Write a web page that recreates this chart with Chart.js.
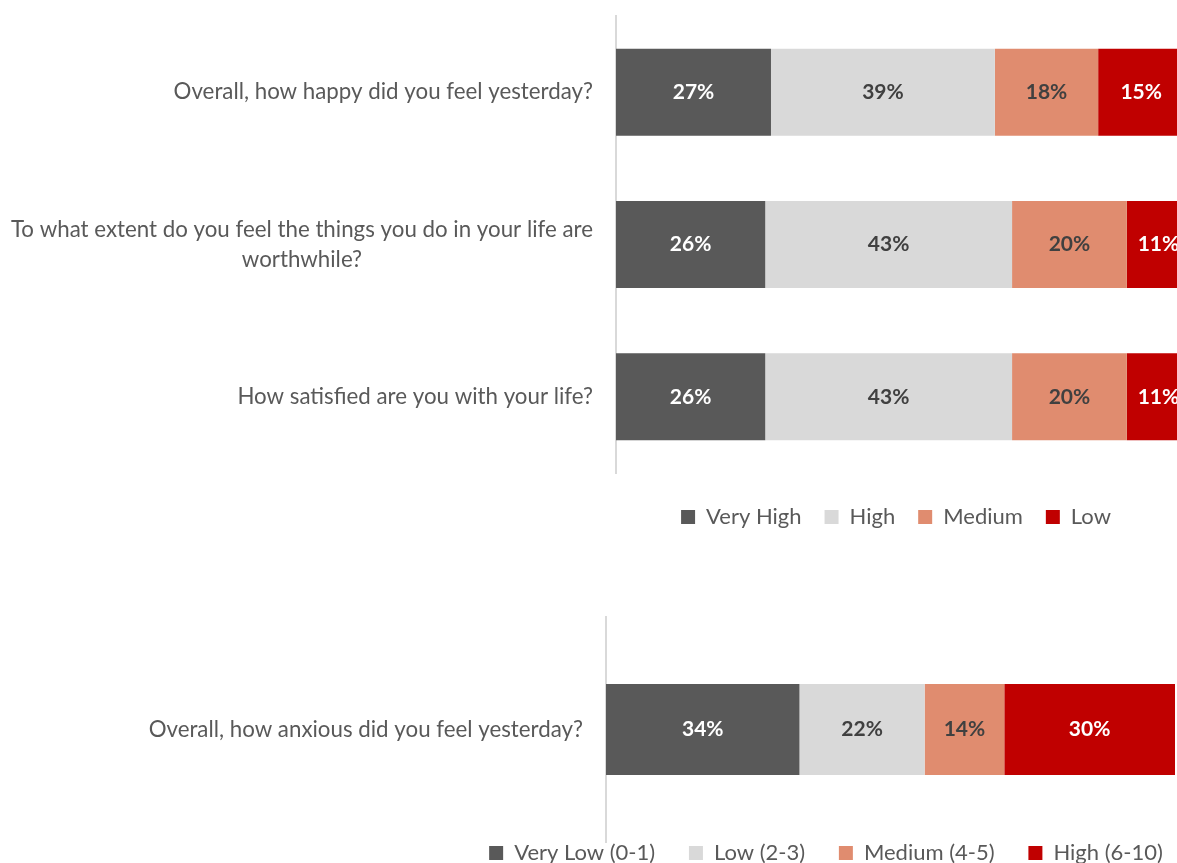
<!DOCTYPE html>
<html>
<head>
<meta charset="utf-8">
<title>Personal wellbeing</title>
<script src="https://cdn.jsdelivr.net/npm/chart.js@4/dist/chart.umd.min.js"></script>
<style>
  html, body { margin: 0; padding: 0; background: #ffffff; }
  #page { position: relative; width: 1177px; height: 863px; overflow: hidden; }
  .panel { position: absolute; left: 0; }
  #wellbeingPanel { top: 0; }
  #anxietyPanel { top: 600px; }
</style>
</head>
<body>
<div id="page">
  <div class="panel" id="wellbeingPanel"><canvas id="wellbeingChart" width="1190" height="538"></canvas></div>
  <div class="panel" id="anxietyPanel"><canvas id="anxietyChart" width="1175" height="274"></canvas></div>
</div>

<script>
/* ---------- data ---------- */
const wellbeingQuestions = [
  "Overall, how happy did you feel yesterday?",
  ["To what extent do you feel the things you do in your life are", "worthwhile?"],
  "How satisfied are you with your life?"
];
const wellbeingBands = ["Very High", "High", "Medium", "Low"];
const wellbeingVeryHigh = [27, 26, 26];
const wellbeingHigh     = [39, 43, 43];
const wellbeingMedium   = [18, 20, 20];
const wellbeingLow      = [15, 11, 11];

const anxietyQuestions = ["Overall, how anxious did you feel yesterday?"];
const anxietyBands = ["Very Low (0-1)", "Low (2-3)", "Medium (4-5)", "High (6-10)"];
const anxietyVeryLow = [34];
const anxietyLow     = [22];
const anxietyMedium  = [14];
const anxietyHigh    = [30];

/* ---------- styling ---------- */
const bandColors = ["#595959", "#D9D9D9", "#E08C6F", "#C00000"];
const valueTextColors = ["#FFFFFF", "#404040", "#404040", "#FFFFFF"];
const FONT = "Lato";
const TEXT_GREY = "#595959";

/* percentage written in the middle of each segment */
const valueLabels = {
  id: "valueLabels",
  afterDatasetsDraw(chart) {
    const ctx = chart.ctx;
    ctx.save();
    ctx.font = `bold 21px ${FONT}`;
    ctx.textAlign = "center";
    ctx.textBaseline = "middle";
    chart.data.datasets.forEach((ds, di) => {
      chart.getDatasetMeta(di).data.forEach((bar, i) => {
        const { x, y } = bar.getCenterPoint();
        ctx.fillStyle = ds.valueColor;
        ctx.fillText(ds.data[i] + "%", x, y);
      });
    });
    ctx.restore();
  }
};

/* question text: block right-aligned to the axis, lines centred inside it */
const questionLabels = {
  id: "questionLabels",
  afterDraw(chart) {
    const ctx = chart.ctx;
    const yScale = chart.scales.y;
    const right = chart.chartArea.left - 23;
    const lineH = 30;
    ctx.save();
    ctx.font = `22.3px ${FONT}`;
    ctx.fillStyle = TEXT_GREY;
    ctx.textAlign = "center";
    ctx.textBaseline = "middle";
    chart.data.labels.forEach((label, i) => {
      const lines = [].concat(label);
      const width = Math.max(...lines.map(l => ctx.measureText(l).width));
      const cx = right - width / 2;
      const y0 = yScale.getPixelForValue(i) - (lines.length - 1) * lineH / 2;
      lines.forEach((line, j) => ctx.fillText(line, cx, y0 + j * lineH));
    });
    ctx.restore();
  }
};

// The left layout padding holds the question text; the legend is laid out
// over the remaining width, so it centres under the bars.
function drawStackedChart(canvasId, questions, bands, series, cfg) {
  const datasets = series.map((values, i) => ({
    label: bands[i],
    data: values,
    backgroundColor: bandColors[i],
    valueColor: valueTextColors[i],
    borderWidth: 0,
    barPercentage: cfg.barPercentage,
    categoryPercentage: 1
  }));

  const legendLabels = {
    boxWidth: 14,
    boxHeight: 14,
    padding: cfg.legendPadding,
    color: TEXT_GREY,
    font: { family: FONT, size: 22 }
  };
  // extra room after each entry when the legend sits tight under the bars
  if (cfg.legendSpacer) {
    legendLabels.generateLabels = chart => {
      const items = Chart.defaults.plugins.legend.labels.generateLabels(chart);
      items.forEach((it, i) => {
        if (i < items.length - 1) it.text += cfg.legendSpacer;
      });
      return items;
    };
  }

  return new Chart(document.getElementById(canvasId), {
    type: "bar",
    data: { labels: questions, datasets },
    options: {
      indexAxis: "y",
      responsive: false,
      animation: false,
      layout: { padding: { top: cfg.padTop, right: 0, bottom: 0, left: cfg.padLeft } },
      scales: {
        x: {
          stacked: true,
          min: 0,
          max: 100,
          grid: { display: false },
          border: { display: false },
          ticks: { display: false },
          afterFit(scale) { scale.height = cfg.legendGap; }
        },
        y: {
          stacked: true,
          grid: { display: false },
          ticks: { display: false },
          border: { color: "#D9D9D9", width: 2 },
          afterFit(scale) { scale.width = cfg.axisWidth; }
        }
      },
      plugins: {
        legend: { position: "bottom", labels: legendLabels },
        tooltip: { enabled: false }
      }
    },
    plugins: [valueLabels, questionLabels]
  });
}

drawStackedChart(
  "wellbeingChart",
  wellbeingQuestions,
  wellbeingBands,
  [wellbeingVeryHigh, wellbeingHigh, wellbeingMedium, wellbeingLow],
  { padTop: 16, padLeft: 602, axisWidth: 14, legendGap: 10, legendPadding: 23, barPercentage: 0.571 }
);

drawStackedChart(
  "anxietyChart",
  anxietyQuestions,
  anxietyBands,
  [anxietyVeryLow, anxietyLow, anxietyMedium, anxietyHigh],
  { padTop: 17, padLeft: 477, axisWidth: 129, legendGap: 0, legendPadding: 0, barPercentage: 0.404,
    legendSpacer: "\u00a0\u00a0\u00a0\u00a0\u00a0\u00a0" }
);
</script>
</body>
</html>
